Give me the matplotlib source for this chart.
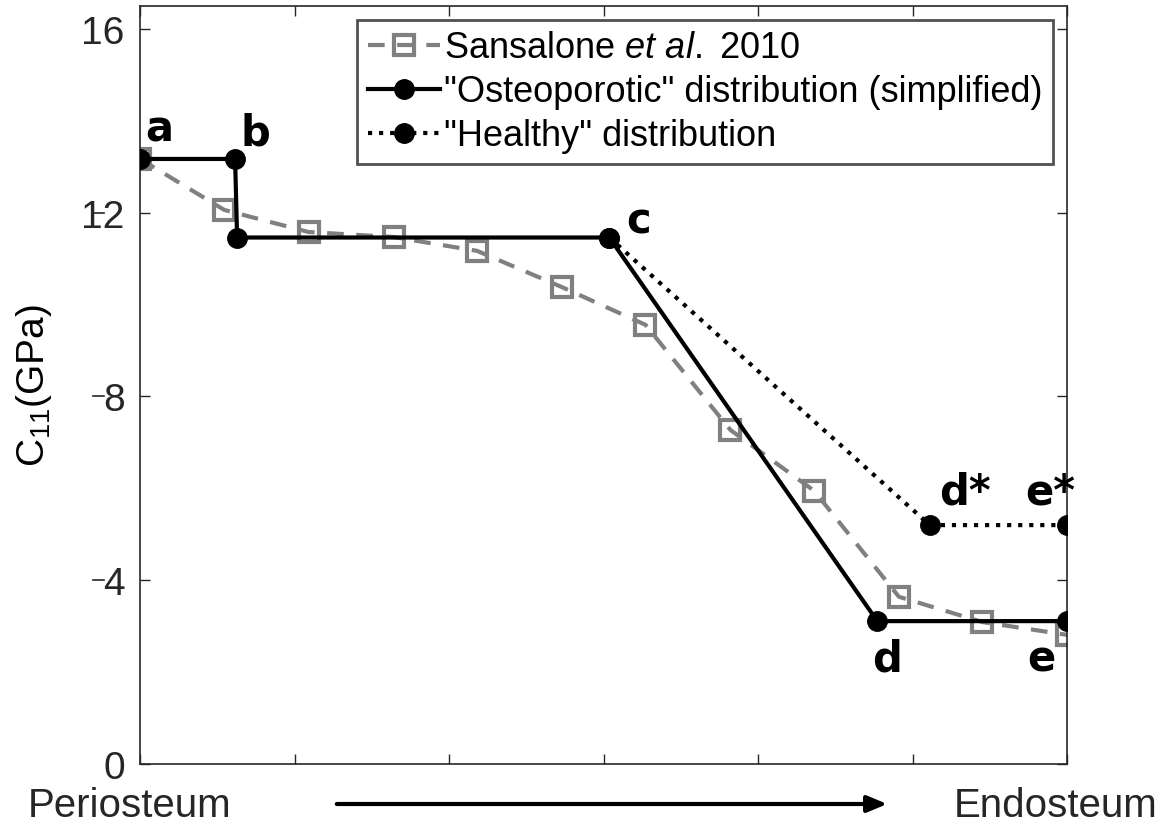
import matplotlib.pyplot as plt
import matplotlib.transforms as mtransforms

plt.rcParams["font.family"] = ["Liberation Sans", "DejaVu Sans"]
plt.rcParams["mathtext.fontset"] = "custom"
plt.rcParams["mathtext.rm"] = "Liberation Sans"
plt.rcParams["mathtext.it"] = "Liberation Sans:italic"

# ----- Données ----- #
sansalone_x = [0.0, 0.545, 1.09, 1.64, 2.18, 2.73, 3.27, 3.82, 4.36, 4.91, 5.45, 6.0]
sansalone_c11 = [13.17, 12.06, 11.58, 11.47, 11.17, 10.38, 9.56, 7.27, 5.95, 3.64, 3.09, 2.81]

osteo_x = [0.0, 0.615, 0.628, 3.036, 4.77, 6.0]
osteo_c11 = [13.17, 13.17, 11.46, 11.46, 3.11, 3.11]

healthy_x = [3.036, 5.11, 6.0]
healthy_c11 = [11.46, 5.20, 5.20]

# lettre, x, y, décalage (pt)
point_labels = [
    ("a", 0.0, 13.17, (14, 22)),
    ("b", 0.615, 13.17, (15, 19)),
    ("c", 3.036, 11.46, (21, 12)),
    ("d", 4.77, 3.11, (7, -27)),
    ("e", 6.0, 3.11, (-19, -27)),
    ("d*", 5.11, 5.20, (25, 24)),
    ("e*", 6.0, 5.20, (-12, 24)),
]

y_ticks = [0, 4, 8, 12, 16]
x_ticks = [0, 1, 2, 3, 4, 5, 6]

fig = plt.figure(figsize=(11.7, 8.29), dpi=100)
ax = fig.add_axes([0.1197, 0.0772, 0.7926, 0.9144])

ax.plot(sansalone_x, sansalone_c11, "--", color="0.5", linewidth=3, dashes=(4, 3),
        marker="s", markersize=15, markerfacecolor="none", markeredgewidth=3,
        markeredgecolor="0.5", label="Sansalone $\\mathit{et\\ al.}$ 2010", zorder=2)
ax.plot(healthy_x, healthy_c11, ":", color="black", linewidth=3,
        marker="o", markersize=14, label='"Healthy" distribution', zorder=3)
ax.plot(osteo_x, osteo_c11, "-", color="black", linewidth=3,
        marker="o", markersize=14, label='"Osteoporotic" distribution (simplified)',
        zorder=4)

for letter, px, py, off in point_labels:
    ax.annotate(letter, (px, py), xytext=off, textcoords="offset points",
                ha="center", va="center", fontsize=30, fontweight="bold",
                family="DejaVu Sans")

ax.set_xlim(0, 6)
ax.set_ylim(0, 16.5)
ax.set_xticks(x_ticks)
ax.set_xticklabels([])
ax.set_yticks(y_ticks)
ax.tick_params(direction="in", length=7, width=1, top=True, right=True,
               labelsize=28, pad=11, colors="0.15")
for spine in ax.spines.values():
    spine.set_linewidth(1.2)
    spine.set_color("0.15")

ax.set_ylabel("C$_{11}$(GPa)", fontsize=28, labelpad=20)

# petits traits parasites à gauche des étiquettes 4, 8, 12
trans = mtransforms.blended_transform_factory(ax.transAxes, ax.transData)
for v in y_ticks[1:-1]:
    ax.plot([-0.051, -0.039], [v, v], color="0.15", linewidth=1.2,
            transform=trans, clip_on=False)

handles, labels = ax.get_legend_handles_labels()
order = [0, 2, 1]
leg = ax.legend([handles[i] for i in order], [labels[i] for i in order],
                loc="upper right", bbox_to_anchor=(0.9845, 0.982), fontsize=26,
                frameon=True, fancybox=False, handlelength=2.0, handletextpad=0.1,
                borderaxespad=0, borderpad=0.3, labelspacing=0.25)
leg.get_frame().set_edgecolor("0.15")
leg.get_frame().set_linewidth(2)

fig.text(130 / 1170, 1 - 806 / 829, "Periosteum", fontsize=29, ha="center",
         va="center", color="0.15")
fig.text(1056 / 1170, 1 - 806 / 829, "Endosteum", fontsize=29, ha="center",
         va="center", color="0.15")
ax.annotate("", xy=(890 / 1170, 1 - 805 / 829), xytext=(334 / 1170, 1 - 805 / 829),
            xycoords="figure fraction", textcoords="figure fraction",
            arrowprops=dict(arrowstyle="-|>,head_length=1.2,head_width=0.5",
                            color="black", linewidth=3))

fig.savefig("out.png", dpi=100)
